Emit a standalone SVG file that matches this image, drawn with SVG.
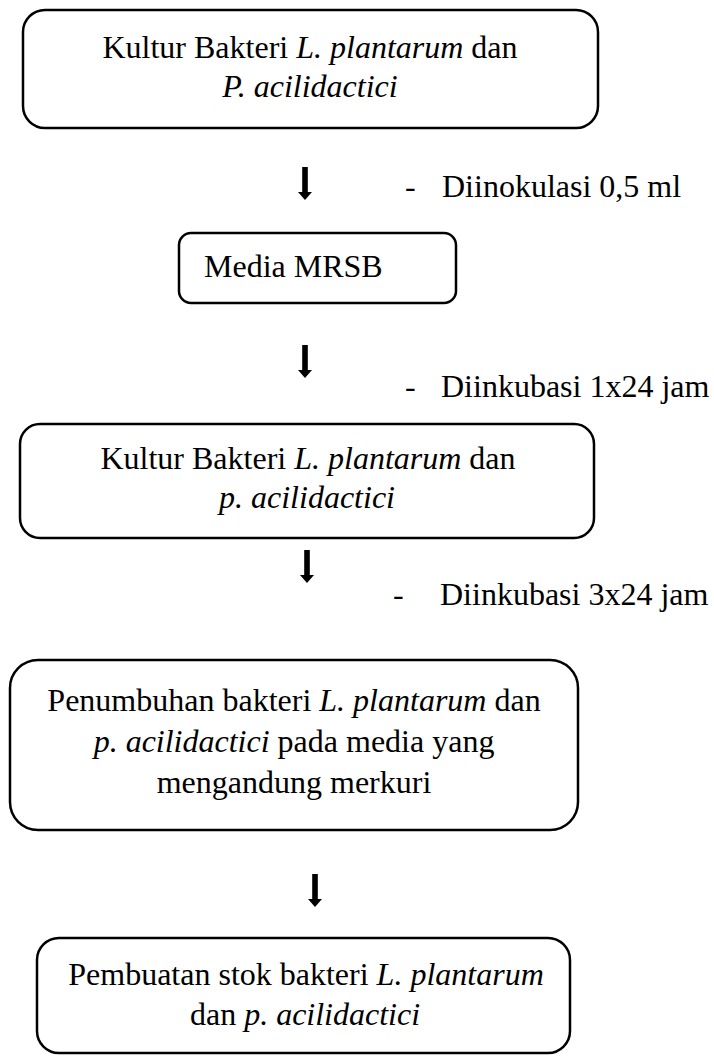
<svg xmlns="http://www.w3.org/2000/svg" width="714" height="1056" viewBox="0 0 714 1056">
  <style>
    .box { fill: #fff; stroke: #000; stroke-width: 2.5; }
    .t { font-family: "Liberation Serif", "Times New Roman", serif; font-size: 32px; fill: #000; }
    .c { text-anchor: middle; }
    .i { font-style: italic; }
    .arrow { fill: #000; }
  </style>
  <defs>
    <!-- block arrow pointing down, tip at (0,0) -->
    <path id="down" d="M-2.8,-33 H2.8 V-8 H7 L0,0 L-7,-8 H-2.8 Z"/>
  </defs>
  <rect width="714" height="1056" fill="#fff"/>

  <g id="node-kultur-awal">
    <rect class="box" x="23" y="10" width="575" height="118" rx="22"/>
    <text class="t c" x="310" y="58">Kultur Bakteri <tspan class="i">L. plantarum</tspan> dan</text>
    <text class="t c i" x="310" y="97">P. acilidactici</text>
  </g>

  <g id="node-media">
    <rect class="box" x="179" y="233" width="277" height="70" rx="12"/>
    <text class="t" x="204" y="277">Media MRSB</text>
  </g>

  <g id="node-kultur">
    <rect class="box" x="20" y="424" width="574" height="114" rx="20"/>
    <text class="t c" x="308" y="469">Kultur Bakteri <tspan class="i">L. plantarum</tspan> dan</text>
    <text class="t c i" x="307" y="508">p. acilidactici</text>
  </g>

  <g id="node-penumbuhan">
    <rect class="box" x="10" y="660" width="568" height="170" rx="28"/>
    <text class="t c" x="294" y="711">Penumbuhan bakteri <tspan class="i">L. plantarum</tspan> dan</text>
    <text class="t c" x="294" y="752"><tspan class="i">p. acilidactici</tspan> pada media yang</text>
    <text class="t c" x="294" y="793">mengandung merkuri</text>
  </g>

  <g id="node-stok">
    <rect class="box" x="37" y="938" width="533" height="115" rx="22"/>
    <text class="t c" x="306" y="985">Pembuatan stok bakteri <tspan class="i">L. plantarum</tspan></text>
    <text class="t c" x="305" y="1025">dan <tspan class="i">p. acilidactici</tspan></text>
  </g>

  <g id="connectors" class="arrow">
    <use href="#down" x="305" y="200"/>
    <use href="#down" x="305" y="378"/>
    <use href="#down" x="307" y="583"/>
    <use href="#down" x="315" y="907"/>
  </g>

  <g id="labels">
    <text class="t" x="405" y="197">-</text>
    <text class="t" x="442" y="197">Diinokulasi 0,5 ml</text>
    <text class="t" x="405" y="397">-</text>
    <text class="t" x="441" y="397">Diinkubasi 1x24 jam</text>
    <text class="t" x="393" y="605">-</text>
    <text class="t" x="440" y="605">Diinkubasi 3x24 jam</text>
  </g>
</svg>
